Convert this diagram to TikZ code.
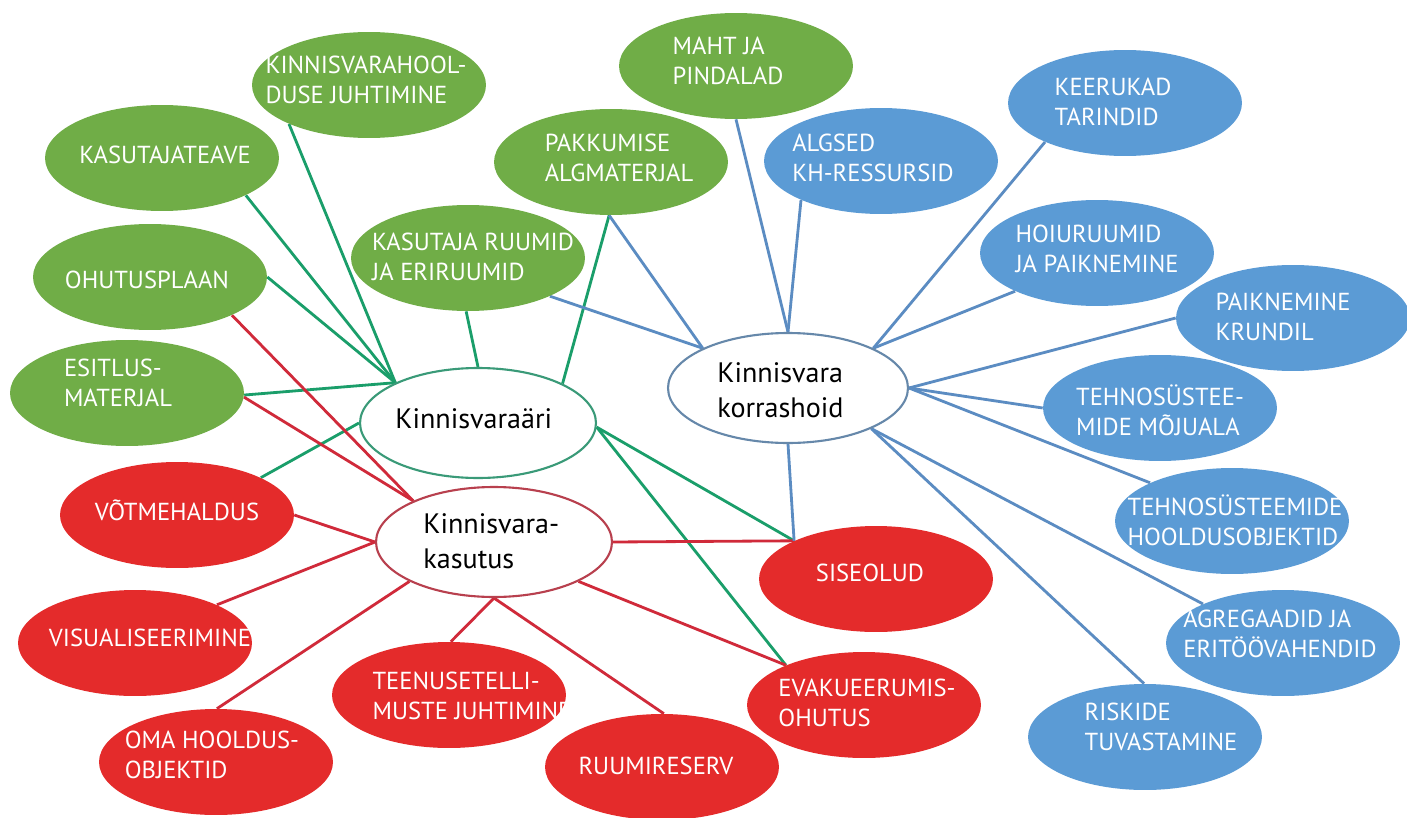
\documentclass[tikz,border=0pt]{standalone}
\usepackage{fontspec}
\setmainfont{PT Sans}
\usetikzlibrary{shapes.geometric}
\definecolor{gfill}{HTML}{70AD47}
\definecolor{bfill}{HTML}{5B9BD5}
\definecolor{rfill}{HTML}{E42B2B}
\definecolor{gline}{HTML}{1A9E6A}
\definecolor{rline}{HTML}{D02A3A}
\definecolor{bline}{HTML}{5B8CC2}
\definecolor{gedge}{HTML}{3A9A78}
\definecolor{redge}{HTML}{B8404E}
\definecolor{bedge}{HTML}{6688AA}
\pgfdeclarelayer{paper}
\pgfdeclarelayer{bg}
\pgfsetlayers{paper,bg,main}
\begin{document}
\begin{tikzpicture}[x=0.02cm,y=-0.02cm,
  oval/.style={ellipse, inner sep=0pt, draw=none, minimum width=4.68cm, minimum height=2.12cm},
  gov/.style={oval, fill=gfill},
  bov/.style={oval, fill=bfill},
  rov/.style={oval, fill=rfill},
  lab/.style={text=white, align=left, inner sep=0pt, font=\fontsize{14}{17}\selectfont},
  hub/.style={ellipse, fill=white, inner sep=0pt, line width=1.2pt, minimum width=4.72cm, minimum height=2.2cm},
  hubt/.style={text=black, align=left, inner sep=0pt, font=\fontsize{16}{20}\selectfont},
  gl/.style={draw=gline, line width=1.6pt},
  rl/.style={draw=rline, line width=1.6pt},
  bl/.style={draw=bline, line width=1.6pt}]
\useasboundingbox (0,0) rectangle (1407,818);
\begin{pgfonlayer}{paper}
\fill[white] (0,0) rectangle (1407,818);
\end{pgfonlayer}

% hubs
\node[hub, draw=gedge] (ari) at (478,423) {};
\node[hub, draw=redge] (kas) at (494,542) {};
\node[hub, draw=bedge, minimum width=4.8cm] (kor) at (788,388) {};
\node[hubt, anchor=base west] (ari-t) at (395,428) {Kinnisvaraäri};
\node[hubt, anchor=west] (kas-t) at (423,541) {Kinnisvara-\\kasutus};
\node[hubt, anchor=west] (kor-t) at (717,390) {Kinnisvara\\korrashoid};

% green
\node[gov] (k1) at (369,85) {};
\node[lab] (k1-t) at (366,80) {KINNISVARAHOOL-\\DUSE JUHTIMINE};
\node[gov] (k2) at (162,158) {};
\node[lab] (k2-t) at (165,155) {KASUTAJATEAVE};
\node[gov] (k3) at (150,277) {};
\node[lab] (k3-t) at (147,280) {OHUTUSPLAAN};
\node[gov] (k4) at (127,393) {};
\node[lab] (k4-t) at (118,383) {ESITLUS-\\MATERJAL};
\node[gov] (k5) at (468,258) {};
\node[lab] (k5-t) at (473,257) {KASUTAJA RUUMID\\JA ERIRUUMID};
\node[gov] (k6) at (611,162) {};
\node[lab] (k6-t) at (619,158) {PAKKUMISE\\ALGMATERJAL};
\node[gov] (k7) at (736,66) {};
\node[lab] (k7-t) at (728,61) {MAHT JA\\PINDALAD};

% blue
\node[bov] (b1) at (881,161) {};
\node[lab] (b1-t) at (873,158) {ALGSED\\KH-RESSURSID};
\node[bov] (b2) at (1125,103) {};
\node[lab] (b2-t) at (1113,102) {KEERUKAD\\TARINDID};
\node[bov] (b3) at (1097,253) {};
\node[lab] (b3-t) at (1097,249) {HOIURUUMID\\JA PAIKNEMINE};
\node[bov] (b4) at (1293,318) {};
\node[lab] (b4-t) at (1283,317) {PAIKNEMINE\\KRUNDIL};
\node[bov] (b5) at (1160,408) {};
\node[lab] (b5-t) at (1160,410) {TEHNOSÜSTEE-\\MIDE MÕJUALA};
\node[bov] (b6) at (1232,521) {};
\node[lab] (b6-t) at (1235,520) {TEHNOSÜSTEEMIDE\\HOOLDUSOBJEKTID};
\node[bov] (b7) at (1283,643) {};
\node[lab] (b7-t) at (1280,634) {AGREGAADID JA\\ERITÖÖVAHENDID};
\node[bov] (b8) at (1145,737) {};
\node[lab] (b8-t) at (1161,727) {RISKIDE\\TUVASTAMINE};

% red
\node[rov] (r1) at (177,515) {};
\node[lab] (r1-t) at (177,510) {VÕTMEHALDUS};
\node[rov] (r2) at (135,643) {};
\node[lab] (r2-t) at (150,638) {VISUALISEERIMINE};
\node[rov] (r3) at (216,762) {};
\node[lab] (r3-t) at (212,755) {OMA HOOLDUS-\\OBJEKTID};
\node[rov] (r4) at (449,695) {};
\node[lab] (r4-t) at (472,696) {TEENUSETELLI-\\MUSTE JUHTIMINE};
\node[rov] (r5) at (662,767) {};
\node[lab] (r5-t) at (656,766) {RUUMIRESERV};
\node[rov] (r6) at (876,579) {};
\node[lab] (r6-t) at (870,573) {SISEOLUD};
\node[rov] (r7) at (864,705) {};
\node[lab] (r7-t) at (867,703) {EVAKUEERUMIS-\\OHUTUS};

\begin{pgfonlayer}{bg}
% green connectors
\draw[gl] (k2.-24.9) -- (ari.154.8);
\draw[gl] (k1.206.3) -- (ari.154.8);
\draw[gl] (k3.0) -- (ari.154.8);
\draw[gl] (k4.-1) -- (ari.154.8);
\draw[gl] (k5.268) -- (ari.90);
\draw[gl] (k6.268) -- (ari.25.5);
\draw[gl] (r1.24.1) -- (ari.180);
\draw[gl] (ari.-2) -- (r6.155);
\draw[gl] (ari.-2) -- (r7.153);
% red connectors
\draw[rl] (k3.-25.7) -- (kas.153.4);
\draw[rl] (k4.-2) -- (kas.153.4);
\draw[rl] (r1.0) -- (kas.180);
\draw[rl] (r2.25.2) -- (kas.180);
\draw[rl] (r3.89) -- (kas.205.5);
\draw[rl] (r4.88) -- (kas.270);
\draw[rl] (r5.88) -- (kas.270);
\draw[rl] (kas.0) -- (r6.155);
\draw[rl] (kas.-25) -- (r7.153);
% blue connectors
\draw[bl] (k5.-25.2) -- (kor.155.6);
\draw[bl] (k6.268) -- (kor.155.6);
\draw[bl] (k7.270) -- (kor.90);
\draw[bl] (b1.206.8) -- (kor.90);
\draw[bl] (b2.206.8) -- (kor.25.8);
\draw[bl] (b3.205.5) -- (kor.25.8);
\draw[bl] (b4.180) -- (kor.0);
\draw[bl] (b5.180) -- (kor.0);
\draw[bl] (b6.155) -- (kor.0);
\draw[bl] (b7.154.3) -- (kor.-26.3);
\draw[bl] (b8.91) -- (kor.-26.3);
\draw[bl] (kor.270) -- (r6.155);
\end{pgfonlayer}
\end{tikzpicture}
\end{document}
